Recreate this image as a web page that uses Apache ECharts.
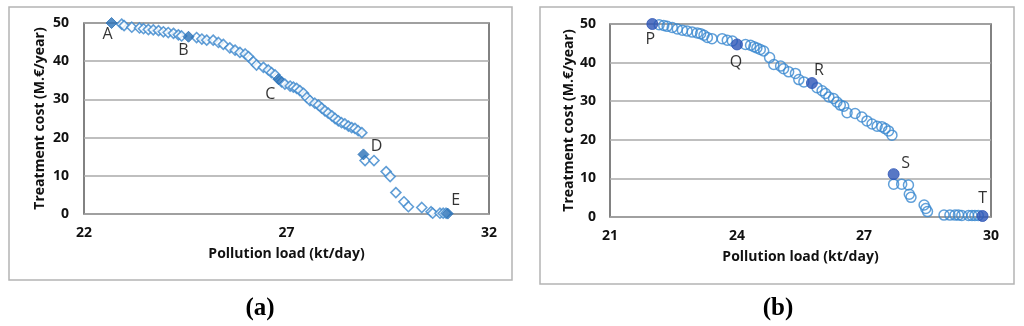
<!DOCTYPE html>
<html>
<head>
<meta charset="utf-8">
<script src="https://cdn.jsdelivr.net/npm/echarts@6/dist/echarts.min.js"></script>
<style>
html,body{margin:0;padding:0;background:#fff;}
#chart{width:1024px;height:326px;}
</style>
</head>
<body>
<div id="chart"></div>
<script>
// ---- Data: panel (a) ----
const loadA = [22.93,22.99,23.18,23.37,23.47,23.59,23.71,23.84,23.96,24.08,24.21,24.33,24.41,24.78,24.91,25.03,25.19,25.32,25.44,25.60,25.73,25.85,25.98,26.06,26.18,26.26,26.43,26.55,26.63,26.72,26.88,26.96,27.09,27.17,27.25,27.33,27.42,27.50,27.58,27.70,27.79,27.87,27.95,28.03,28.12,28.20,28.28,28.36,28.44,28.53,28.61,28.69,28.77,28.86,28.94,29.16,29.46,29.56,29.70,29.90,30.01,30.34,30.57,30.61,30.79,30.87,30.94];
const costA = [49.7,49.3,48.9,48.7,48.5,48.3,48.2,48.0,47.7,47.5,47.3,46.9,46.6,46.2,45.8,45.5,45.5,44.9,44.4,43.5,42.9,42.3,41.9,41.2,39.9,39.0,38.4,37.7,37.0,36.4,34.6,34.0,33.5,33.2,32.9,32.3,31.6,30.5,29.7,29.0,28.5,27.7,27.0,26.4,25.7,25.0,24.4,23.9,23.6,23.0,22.6,22.4,21.8,21.3,14.0,14.0,11.1,9.8,5.6,3.2,1.9,1.7,0.6,0.2,0.2,0.2,0.2];
const keyNamesA = ['A','B','C','D','E'];
const keyLoadA = [22.68,24.58,26.80,28.90,30.98];
const keyCostA = [50,46.4,35.3,15.6,0.1];
const xTicksA = [22,27,32];

// ---- Data: panel (b) ----
const loadB = [22.16,22.27,22.35,22.47,22.59,22.71,22.82,22.94,23.06,23.14,23.22,23.30,23.41,23.65,23.77,23.89,24.20,24.32,24.40,24.47,24.55,24.63,24.77,24.87,25.03,25.10,25.22,25.38,25.46,25.58,25.89,26.01,26.09,26.17,26.28,26.36,26.44,26.52,26.60,26.79,26.95,27.07,27.19,27.31,27.42,27.50,27.58,27.66,27.70,27.89,28.05,28.07,28.11,28.42,28.46,28.50,28.89,29.03,29.15,29.23,29.31,29.47,29.55,29.62,29.70];
const costB = [49.8,49.6,49.4,49.1,48.7,48.4,48.2,47.9,47.7,47.5,47.1,46.5,46.2,46.2,45.8,45.6,44.7,44.5,44.1,43.8,43.4,43.0,41.3,39.5,39.1,38.4,37.6,37.2,35.6,35.0,33.5,32.7,32.0,31.1,30.7,29.8,29.0,28.7,27.0,26.8,25.9,24.9,24.1,23.5,23.4,22.9,22.3,21.2,8.5,8.5,8.3,5.9,5.1,3.1,2.2,1.4,0.5,0.5,0.5,0.5,0.4,0.4,0.4,0.4,0.4];
const keyNamesB = ['P','Q','R','S','T'];
const keyLoadB = [22.0,24.0,25.77,27.70,29.80];
const keyCostB = [50,44.7,34.7,11.1,0.26];
const xTicksB = [21,24,27,30];

const xName = 'Pollution load (kt/day)';
const yName = 'Treatment cost (M.€/year)';
const captions = ['(a)','(b)'];

// ---- styles ----
const labelOffsets = {A:[-4,11],B:[-5,14],C:[-8,15],D:[13,-8],E:[8,-13],P:[-2,15],Q:[-1,18],R:[7,-13],S:[12,-11],T:[0,-18]};
const FONT = '"Open Sans", Lato, "Liberation Sans", sans-serif';

function zip(xs, ys){ return xs.map((x,i)=>[x, ys[i]]); }
function keyData(names, xs, ys){
  return names.map((n,i)=>({
    value:[xs[i], ys[i]],
    name:n,
    label:{show:true, formatter:n, position:'inside', offset:labelOffsets[n],
      color:'#000', fontSize:16, fontFamily:FONT}
  }));
}

function xAxis(gi, min, max, ticks, gap){
  return {
    gridIndex:gi, type:'value', min:min, max:max,
    name:xName, nameLocation:'middle', nameGap:gap,
    nameTextStyle:{fontFamily:FONT, fontWeight:'bold', fontSize:14, color:'#111'},
    axisLine:{show:false}, axisTick:{show:false},
    splitLine:{show:false},
    axisLabel:{customValues:ticks, margin:12, fontFamily:FONT, fontWeight:'bold', fontSize:14, color:'#111'}
  };
}
function yAxis(gi, gap, margin){
  return {
    gridIndex:gi, type:'value', min:0, max:50, interval:10,
    name:yName, nameLocation:'middle', nameGap:gap,
    nameTextStyle:{fontFamily:FONT, fontWeight:'bold', fontSize:14, color:'#111'},
    axisLine:{show:false}, axisTick:{show:false},
    splitLine:{show:true, lineStyle:{color:'#aaaaaa', width:1.5}},
    axisLabel:{margin:margin, fontFamily:FONT, fontWeight:'bold', fontSize:14, color:'#111'}
  };
}

const chart = echarts.init(document.getElementById('chart'), null, {renderer:'canvas'});
chart.setOption({
  animation:false,
  backgroundColor:'#fff',
  graphic:[
    {type:'rect', shape:{x:9, y:7, width:503, height:273}, style:{fill:'none', stroke:'#b4b4b4', lineWidth:1.5}, z:-1},
    {type:'rect', shape:{x:540, y:7, width:474, height:277}, style:{fill:'none', stroke:'#b4b4b4', lineWidth:1.5}, z:-1},
    {type:'text', x:260, y:309, style:{text:captions[0], font:'bold 25px "Liberation Serif", "DejaVu Serif", serif', fill:'#000', textAlign:'center', textVerticalAlign:'middle'}},
    {type:'text', x:778, y:309, style:{text:captions[1], font:'bold 25px "Liberation Serif", "DejaVu Serif", serif', fill:'#000', textAlign:'center', textVerticalAlign:'middle'}}
  ],
  grid:[
    {left:84, right:535, top:23, bottom:112, show:true, borderColor:'#5a5a5a', borderWidth:1.5, backgroundColor:'transparent'},
    {left:610, right:33, top:24, bottom:109, show:true, borderColor:'#5a5a5a', borderWidth:1.5, backgroundColor:'transparent'}
  ],
  xAxis:[xAxis(0,22,32,xTicksA,33), xAxis(1,21,30,xTicksB,33)],
  yAxis:[yAxis(0,37,15), yAxis(1,34,14)],
  series:[
    {type:'scatter', xAxisIndex:0, yAxisIndex:0, data:zip(loadA,costA), symbol:'diamond', symbolSize:10, clip:false,
      itemStyle:{color:'#ffffff', borderColor:'#3a86cc', borderWidth:1.6}},
    {type:'scatter', xAxisIndex:0, yAxisIndex:0, data:keyData(keyNamesA,keyLoadA,keyCostA), symbol:'diamond', symbolSize:11, clip:false, z:5,
      itemStyle:{color:'#2b72b8', borderColor:'#2b72b8', borderWidth:1}},
    {type:'scatter', xAxisIndex:1, yAxisIndex:1, data:zip(loadB,costB), symbol:'circle', symbolSize:10, clip:false,
      itemStyle:{color:'rgba(255,255,255,0)', borderColor:'#3a88d0', borderWidth:1.5}},
    {type:'scatter', xAxisIndex:1, yAxisIndex:1, data:keyData(keyNamesB,keyLoadB,keyCostB), symbol:'circle', symbolSize:11, clip:false, z:5,
      itemStyle:{color:'#2d55b6', borderColor:'#2d55b6', borderWidth:1}}
  ]
});
</script>
</body>
</html>
